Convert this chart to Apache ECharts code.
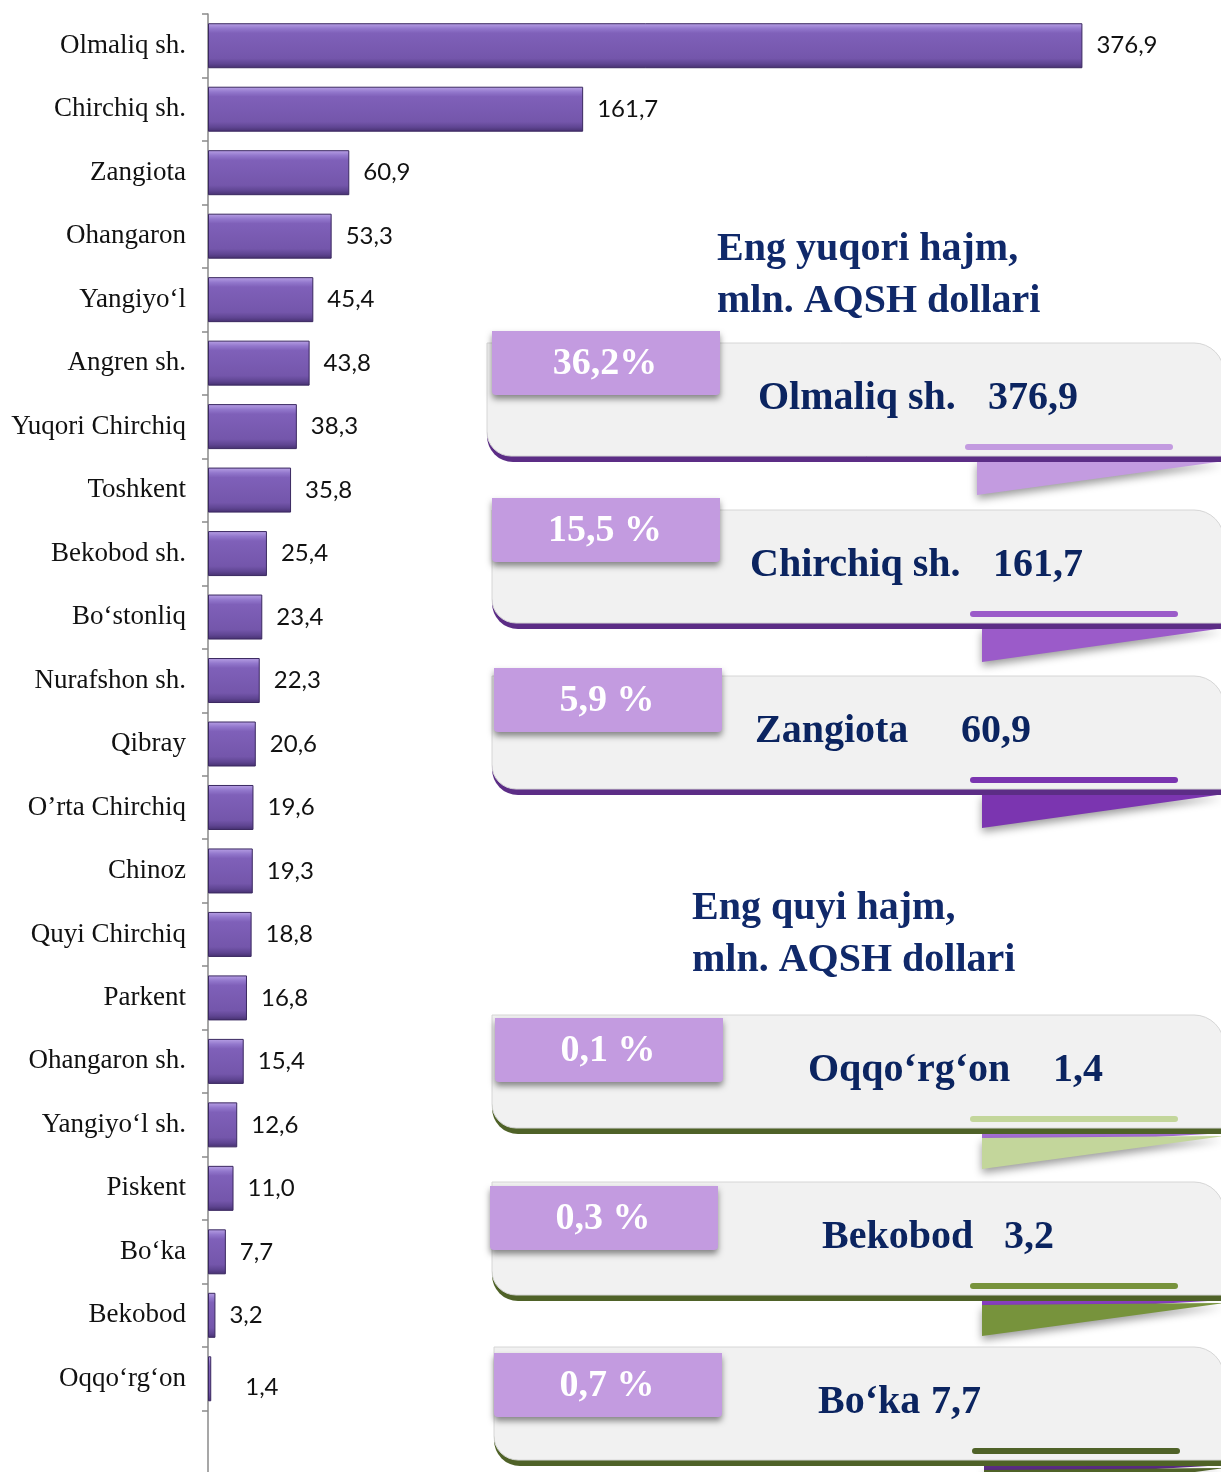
<!DOCTYPE html>
<html>
<head>
<meta charset="utf-8">
<script src="https://cdn.jsdelivr.net/npm/echarts@6/dist/echarts.min.js"></script>
<style>
  html, body { margin: 0; padding: 0; background: #fff; }
  #chart { width: 1221px; height: 1472px; }
</style>
</head>
<body>
<div id="chart"></div>
<script>
const categories = ['Olmaliq sh.', 'Chirchiq sh.', 'Zangiota', 'Ohangaron', 'Yangiyo‘l', 'Angren sh.',
  'Yuqori Chirchiq', 'Toshkent', 'Bekobod sh.', 'Bo‘stonliq', 'Nurafshon sh.', 'Qibray', 'O’rta Chirchiq',
  'Chinoz', 'Quyi Chirchiq', 'Parkent', 'Ohangaron sh.', 'Yangiyo‘l sh.', 'Piskent', 'Bo‘ka', 'Bekobod', 'Oqqo‘rg‘on'];
const values = [376.9, 161.7, 60.9, 53.3, 45.4, 43.8, 38.3, 35.8, 25.4, 23.4, 22.3, 20.6, 19.6,
  19.3, 18.8, 16.8, 15.4, 12.6, 11.0, 7.7, 3.2, 1.4];

// callout texts
const topTitle = ['Eng yuqori hajm,', 'mln. AQSH dollari'];
const bottomTitle = ['Eng quyi hajm,', 'mln. AQSH dollari'];
const topPercents = ['36,2%', '15,5 %', '5,9 %'];
const topNames = ['Olmaliq sh.', 'Chirchiq sh.', 'Zangiota'];
const topValues = ['376,9', '161,7', '60,9'];
const bottomPercents = ['0,1 %', '0,3 %', '0,7 %'];
const bottomNames = ['Oqqo‘rg‘on', 'Bekobod', 'Bo‘ka'];
const bottomValues = ['1,4', '3,2', '7,7'];

const fmt = v => v.toFixed(1).replace('.', ',');

const chart = echarts.init(document.getElementById('chart'));

const barColor = new echarts.graphic.LinearGradient(0, 0, 0, 1, [
  {offset: 0, color: '#b9a2e6'},
  {offset: 0.12, color: '#9277cc'},
  {offset: 0.22, color: '#7f60b9'},
  {offset: 0.78, color: '#7456ab'},
  {offset: 0.9, color: '#5f4592'},
  {offset: 1, color: '#45306e'}
]);

// layout of the decorative callouts on the right
const boxes = [
  {left: 487, top: 343, tabX: 492, tabY: 331, nameX: 758, valX: 988, band: '#5c2d86', accent: '#c39be0'},
  {left: 492, top: 510, tabX: 492, tabY: 498, nameX: 750, valX: 993, band: '#5c2d86', accent: '#9b5bc9'},
  {left: 492, top: 676, tabX: 494, tabY: 668, nameX: 755, valX: 961, band: '#5c2d86', accent: '#7b35b0'},
  {left: 492, top: 1015, tabX: 495, tabY: 1018, nameX: 808, valX: 1053, band: '#4f6228', accent: '#c3d69b', strip: '#a66fd6'},
  {left: 492, top: 1182, tabX: 490, tabY: 1186, nameX: 822, valX: 1004, band: '#4f6228', accent: '#77933c', strip: '#8a3fc4'},
  {left: 494, top: 1347, tabX: 494, tabY: 1353, nameX: 818, valX: 931, band: '#4f6228', accent: '#4f6228', strip: '#5c2d86'}
];
const pcts = topPercents.concat(bottomPercents);
const names = topNames.concat(bottomNames);
const vals = topValues.concat(bottomValues);

const serif = '"Liberation Serif", "DejaVu Serif", serif';
const navy = '#0b2460';

const graphics = [];
boxes.forEach((b, i) => {
  const right = 1224;
  const rx = b.left + 490;
  const rt = b.top + 118;
  if (b.strip) {
    graphics.push({type: 'polygon', z: 1,
      shape: {points: [[rx, rt], [right, rt], [rx, rt + 14]]},
      style: {fill: b.strip}});
    graphics.push({type: 'polygon', z: 1,
      shape: {points: [[rx, rt + 5], [right, rt + 3], [rx, rt + 36]]},
      style: {fill: b.accent, shadowBlur: 8, shadowOffsetY: 4, shadowColor: 'rgba(0,0,0,0.4)'}});
  } else {
    graphics.push({type: 'polygon', z: 1,
      shape: {points: [[rx, rt], [right, rt], [rx, rt + 34]]},
      style: {fill: b.accent, shadowBlur: 8, shadowOffsetY: 4, shadowColor: 'rgba(0,0,0,0.4)'}});
  }
  graphics.push({type: 'rect', z: 2,
    shape: {x: b.left, y: b.top + 60, width: right - b.left, height: 59, r: [0, 0, 0, 26]},
    style: {fill: b.band}});
  graphics.push({type: 'rect', z: 3,
    shape: {x: b.left, y: b.top, width: right - b.left, height: 113, r: [0, 30, 0, 24]},
    style: {fill: '#f1f1f1', stroke: '#d6d6d6', lineWidth: 1}});
  graphics.push({type: 'rect', z: 4,
    shape: {x: b.left + 478, y: b.top + 101, width: 208, height: 6, r: 3},
    style: {fill: b.accent}});
  graphics.push({type: 'rect', z: 5,
    shape: {x: b.tabX, y: b.tabY, width: 228, height: 64, r: [0, 0, 4, 4]},
    style: {fill: '#c39be0', shadowBlur: 6, shadowOffsetY: 4, shadowColor: 'rgba(0,0,0,0.45)'}});
  graphics.push({type: 'text', z: 6, x: b.tabX + 113, y: b.tabY + 33,
    style: {text: pcts[i], fill: '#ffffff', font: 'bold 38px ' + serif, align: 'center', verticalAlign: 'middle'}});
  graphics.push({type: 'text', z: 6, x: b.nameX, y: b.top + 56,
    style: {text: names[i], fill: navy, font: 'bold 40px ' + serif, align: 'left', verticalAlign: 'middle'}});
  graphics.push({type: 'text', z: 6, x: b.valX, y: b.top + 56,
    style: {text: vals[i], fill: navy, font: 'bold 40px ' + serif, align: 'left', verticalAlign: 'middle'}});
});
[[topTitle, 717, 250], [bottomTitle, 692, 909]].forEach(([t, x, y]) => {
  t.forEach((line, k) => {
    graphics.push({type: 'text', z: 6, x: x, y: y + k * 52,
      style: {text: line, fill: '#10296a', font: 'bold 40px ' + serif, align: 'left', verticalAlign: 'middle'}});
  });
});

const barData = values.map((v, i) => {
  if (i === values.length - 1) {
    return {value: v, label: {offset: [20, 8]}};
  }
  return v;
});

const option = {
  animation: false,
  backgroundColor: '#ffffff',
  grid: {
    left: 208,
    top: 14,
    right: 85,
    height: 1460,
    containLabel: false,
    outerBoundsMode: 'none'
  },
  xAxis: {
    type: 'value',
    min: 0,
    max: 400,
    show: false
  },
  yAxis: {
    type: 'category',
    inverse: true,
    data: categories,
    max: categories.length,
    axisLine: {show: true, lineStyle: {color: '#8a8a8a', width: 1.5}},
    axisTick: {show: true, length: 6, lineStyle: {color: '#8a8a8a', width: 1.5}},
    axisLabel: {
      margin: 22,
      color: '#111111',
      fontFamily: serif,
      fontSize: 27
    }
  },
  series: [
    {
      type: 'bar',
      data: barData,
      barWidth: 45,
      itemStyle: {
        color: barColor,
        borderColor: '#3a2860',
        borderWidth: 1
      },
      label: {
        show: true,
        position: 'right',
        distance: 14,
        color: '#111111',
        fontFamily: 'Lato, "Open Sans", sans-serif',
        fontSize: 24,
        formatter: p => fmt(p.value)
      }
    }
  ],
  graphic: {elements: graphics}
};

chart.setOption(option);
</script>
</body>
</html>
